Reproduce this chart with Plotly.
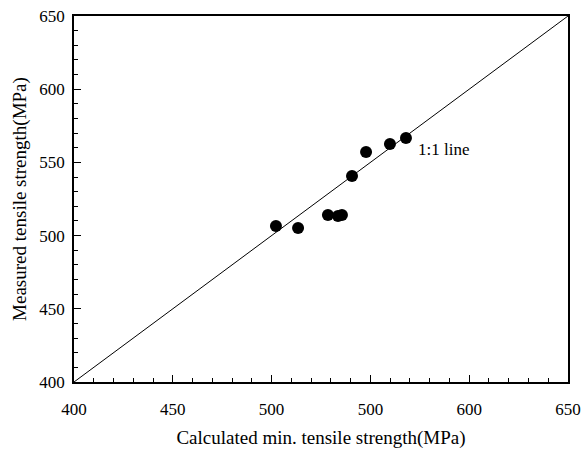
import plotly.graph_objects as go

calc_x = [502.2, 513.4, 528.5, 533.6, 535.6, 540.7, 547.8, 559.9, 568.0]
meas_y = [506.6, 505.2, 514.1, 513.4, 514.1, 540.7, 557.1, 562.6, 566.7]
line_vals = [400, 650]
x_tickvals = [400, 450, 500, 550, 600, 650]
x_ticktext = ["400", "450", "500", "500", "600", "650"]
y_tickvals = [400, 450, 500, 550, 600, 650]

font_family = "Liberation Serif, Times New Roman, serif"

fig = go.Figure()
fig.add_trace(go.Scatter(x=line_vals, y=line_vals, mode="lines",
                         line=dict(color="black", width=1), showlegend=False, hoverinfo="skip"))
fig.add_trace(go.Scatter(x=calc_x, y=meas_y, mode="markers",
                         marker=dict(color="black", size=12), showlegend=False))
fig.add_annotation(x=573, y=559, text="1:1 line", showarrow=False, xanchor="left",
                   yanchor="middle", font=dict(family=font_family, size=17, color="black"))

axis_common = dict(showline=True, linecolor="black", linewidth=1.5, mirror=True,
                   ticks="inside", ticklen=7, tickwidth=1, tickcolor="black",
                   showgrid=False, zeroline=False, automargin=False,
                   tickfont=dict(family=font_family, size=17, color="black"),
                   minor=dict(ticks="inside", ticklen=4, tickwidth=1, tickcolor="black", dtick=10))

fig.update_xaxes(range=[400, 650], tickvals=x_tickvals, ticktext=x_ticktext,
                 title=dict(text="Calculated min. tensile strength(MPa)",
                            font=dict(family=font_family, size=19, color="black"), standoff=13),
                 ticklabelstandoff=11, **axis_common)
fig.update_yaxes(range=[400, 650], tickvals=y_tickvals,
                 title=dict(text="Measured tensile strength(MPa)",
                            font=dict(family=font_family, size=19, color="black"), standoff=8),
                 ticklabelstandoff=4, **axis_common)

fig.update_layout(width=583, height=450, margin=dict(l=74, r=15, t=16, b=68),
                  plot_bgcolor="white", paper_bgcolor="white")
fig.write_html("out.html")
